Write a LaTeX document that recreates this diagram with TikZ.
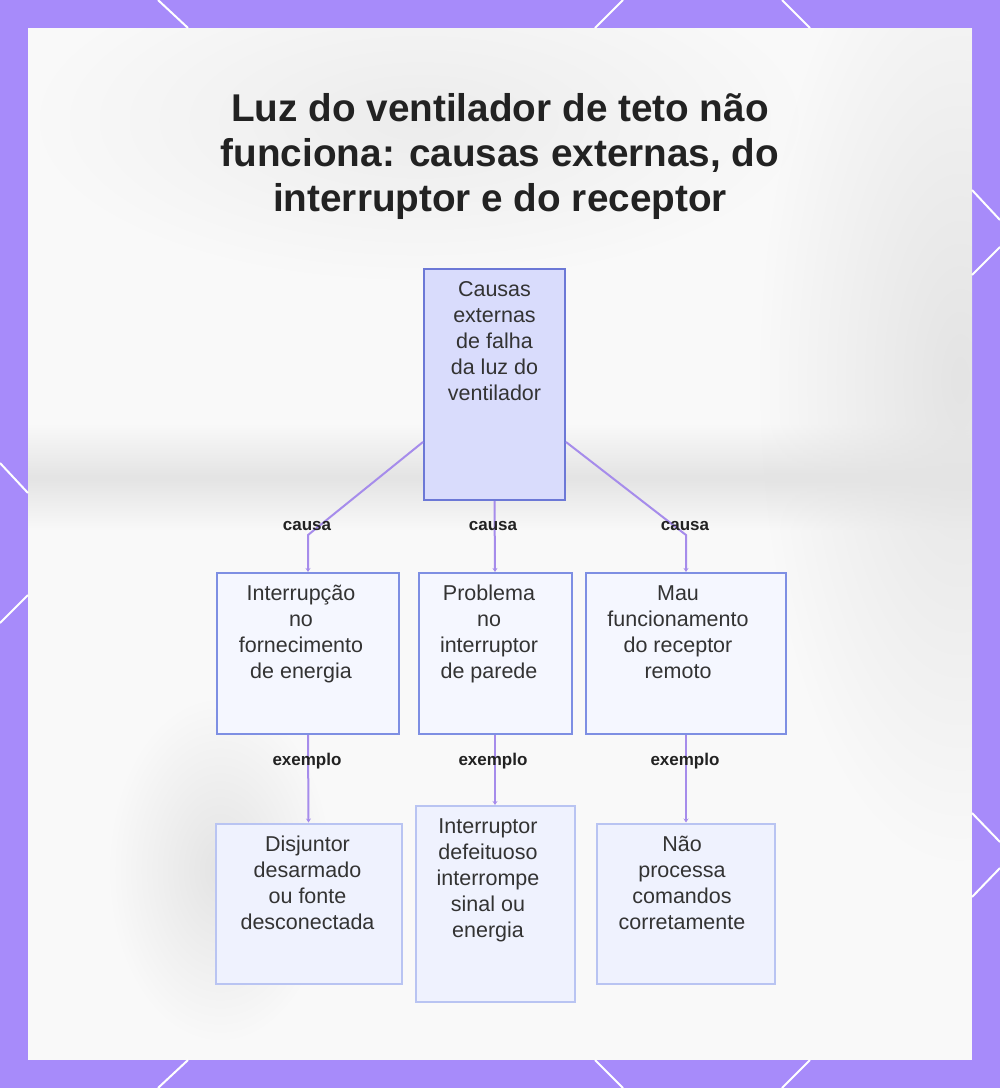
\documentclass[tikz,border=0pt]{standalone}
\usepackage{fontspec}
\setmainfont{Liberation Sans}
\usetikzlibrary{arrows.meta,calc,fadings}
\definecolor{frame}{HTML}{A78BFA}
\definecolor{edge}{HTML}{A68CEB}
\definecolor{rootfill}{HTML}{D9DCFC}
\definecolor{rootdraw}{HTML}{6C78D6}
\definecolor{midfill}{HTML}{F5F7FF}
\definecolor{middraw}{HTML}{7E8FE3}
\definecolor{leaffill}{HTML}{EFF2FE}
\definecolor{leafdraw}{HTML}{B9C4F2}
\definecolor{ink}{HTML}{333333}
\definecolor{titleink}{HTML}{222222}
\definecolor{panel}{HTML}{F9F9F9}
\definecolor{blob}{HTML}{E4E4E4}
\tikzfading[name=bandfade, top color=transparent!100, bottom color=transparent!100, middle color=transparent!0]
\tikzfading[name=blobfade, inner color=transparent!0, outer color=transparent!100]
\begin{document}
\begin{tikzpicture}[x=1pt,y=-1pt,
  box/.style={draw, line width=2pt, inner sep=0pt, anchor=north west},
  rootbox/.style={box, fill=rootfill, draw=rootdraw},
  midbox/.style={box, fill=midfill, draw=middraw},
  leafbox/.style={box, fill=leaffill, draw=leafdraw},
  boxtext/.style={anchor=north, align=center, inner sep=0pt, text=ink, font=\fontsize{21.5}{26}\selectfont},
  lbl/.style={font=\bfseries\fontsize{17}{20}\selectfont, text=titleink, inner sep=0pt},
  conn/.style={draw=edge, line width=2pt, -{Stealth[length=4pt,width=5pt]}},
  deco/.style={draw=white, line width=2pt}
]
\useasboundingbox (0,0) rectangle (1000,1088);
% frame
\fill[frame] (0,0) rectangle (1000,1088);
\fill[panel] (28,28) rectangle (972,1060);
% blurred background hints
\begin{scope}
  \clip (28,28) rectangle (972,1060);
  \fill[blob, path fading=bandfade] (28,425) rectangle (972,530);
  \fill[blob, path fading=blobfade] (960,380) ellipse (200 and 480);
  \fill[blob, path fading=blobfade] (220,870) ellipse (110 and 170);
  \fill[blob, opacity=0.6, path fading=blobfade] (420,120) ellipse (380 and 160);
\end{scope}
% border decorations
\draw[deco] (158,0) -- (188,28);
\draw[deco] (623,0) -- (595,28);
\draw[deco] (782,0) -- (810,28);
\draw[deco] (188,1060) -- (158,1088);
\draw[deco] (595,1060) -- (623,1088);
\draw[deco] (810,1060) -- (782,1088);
\draw[deco] (0,463) -- (28,493);
\draw[deco] (28,595) -- (0,623);
\draw[deco] (972,190) -- (1000,220);
\draw[deco] (972,275) -- (1000,247);
\draw[deco] (972,813) -- (1000,842);
\draw[deco] (972,897) -- (1000,868);
% title
\node[font=\bfseries\fontsize{38.7}{45}\selectfont, text=titleink, align=center, anchor=base, inner sep=0pt] (title) at (500,211)
  {Luz do ventilador de teto não\\funciona: causas externas, do\\interruptor e do receptor};
% boxes
\node[rootbox, minimum width=141pt, minimum height=231pt] (root) at (423,268) {};
\node[midbox, minimum width=182pt, minimum height=161pt] (A) at (216,572) {};
\node[midbox, minimum width=153pt, minimum height=161pt] (B) at (417.5,572) {};
\node[midbox, minimum width=200pt, minimum height=161pt] (C) at (585,572) {};
\node[leafbox, minimum width=186pt, minimum height=160pt] (D) at (214.5,822.5) {};
\node[leafbox, minimum width=159pt, minimum height=196pt] (E) at (414.5,805) {};
\node[leafbox, minimum width=178pt, minimum height=160pt] (F) at (596,822.5) {};
% texts
\node[boxtext] (rootT) at ($(root.north)+(0,13)$) {Causas\\externas\\de falha\\da luz do\\ventilador};
\node[boxtext] (AT) at ($(A.north)+(-7,13)$) {Interrupção\\no\\fornecimento\\de energia};
\node[boxtext] (BT) at ($(B.north)+(-6,13)$) {Problema\\no\\interruptor\\de parede};
\node[boxtext] (CT) at ($(C.north)+(-8,13)$) {Mau\\funcionamento\\do receptor\\remoto};
\node[boxtext] (DT) at ($(D.north)+(-1,13)$) {Disjuntor\\desarmado\\ou fonte\\desconectada};
\node[boxtext] (ET) at ($(E.north)+(-7,13)$) {Interruptor\\defeituoso\\interrompe\\sinal ou\\energia};
\node[boxtext] (FT) at ($(F.north)+(-4,13)$) {Não\\processa\\comandos\\corretamente};
% connectors
\draw[conn] ([yshift=-174pt]root.north west) -- ([yshift=37pt]A.north) -- (A.north);
\draw[conn] (root.south) -- (B.north);
\draw[conn] ([yshift=-174pt]root.north east) -- ([yshift=37pt]C.north) -- (C.north);
\draw[conn] (A.south) -- (D.north);
\draw[conn] (B.south) -- (E.north);
\draw[conn] (C.south) -- (F.north);
% labels
\node[lbl] (l1) at ([yshift=46pt,xshift=-1pt]A.north) {causa};
\node[lbl] (l2) at ([yshift=46pt,xshift=-2pt]B.north) {causa};
\node[lbl] (l3) at ([yshift=46pt,xshift=-1pt]C.north) {causa};
\node[lbl] (l4) at ([yshift=-26pt,xshift=-1pt]A.south) {exemplo};
\node[lbl] (l5) at ([yshift=-26pt,xshift=-2pt]B.south) {exemplo};
\node[lbl] (l6) at ([yshift=-26pt,xshift=-1pt]C.south) {exemplo};
\end{tikzpicture}
\end{document}
